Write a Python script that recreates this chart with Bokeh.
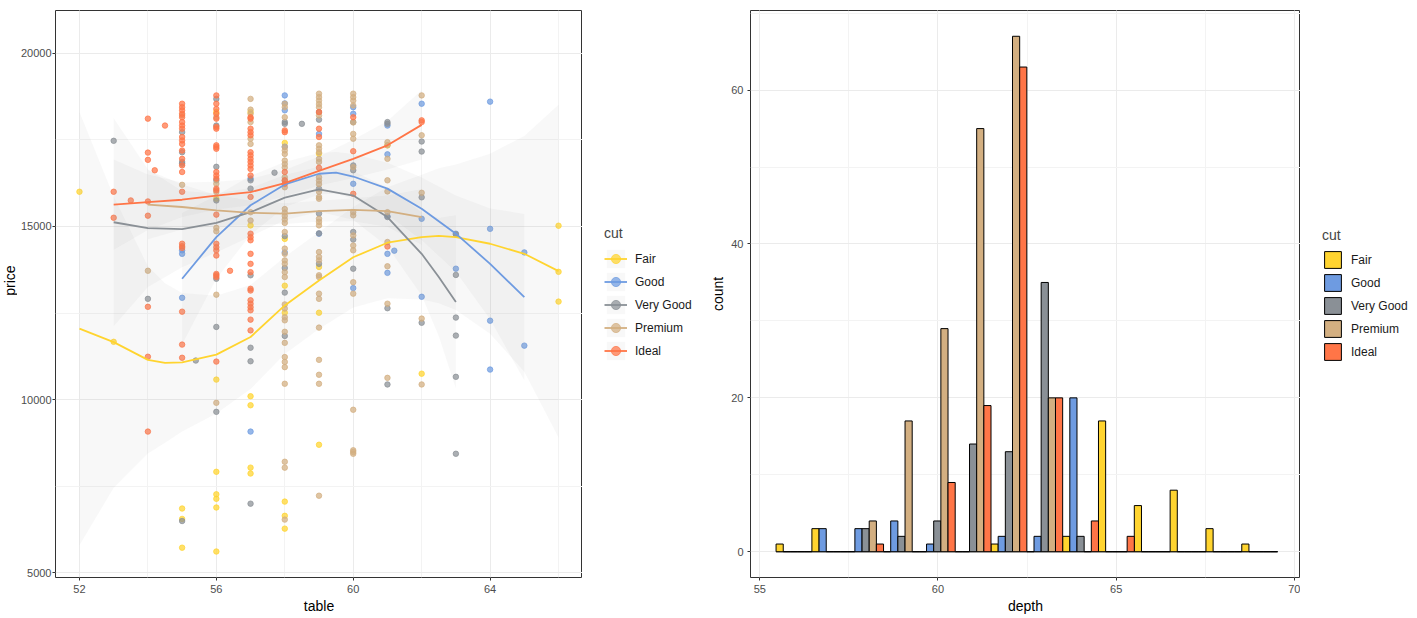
import numpy as np
from bokeh.plotting import figure
from bokeh.layouts import row
from bokeh.models import Range1d, SingleIntervalTicker, Legend, LegendItem
from bokeh.core.properties import value
from bokeh.embed import file_html
from bokeh.resources import INLINE

FONT = "Liberation Sans"

cuts = ["Fair", "Good", "Very Good", "Premium", "Ideal"]
cut_colors = ["#FFD42F", "#6E9BE1", "#8A9096", "#D3AF81", "#FF7547"]

# ---- scatter points (table, price) ----
fair_pts = [(52, 16000), (53, 11670), (55, 6860), (55, 6560), (55, 5730), (56, 18300), (56, 15800),
            (56, 10580), (56, 7920), (56, 7270), (56, 7140), (56, 6890), (56, 5620), (57, 18300),
            (57, 15030), (57, 10100), (57, 9840), (57, 8040), (57, 7870), (58, 17410), (58, 14640),
            (58, 13290), (58, 12510), (58, 7060), (58, 6650), (58, 6280), (59, 17100), (59, 13830),
            (59, 12510), (59, 8700), (61, 17340), (62, 10750), (66, 15020), (66, 13690), (66, 12830)]
good_pts = [(55, 14310), (55, 14210), (55, 12940), (57, 16380), (57, 9080), (58, 18780), (58, 18550),
            (58, 18350), (58, 17300), (58, 14250), (59, 17670), (59, 14790), (60, 18440), (60, 18250),
            (60, 16230), (60, 13220), (61, 17910), (61, 17080), (61, 15290), (61, 14210), (61, 13660),
            (61.2, 14300), (62, 18540), (62, 15220), (62, 12970), (63, 14790), (63, 13780), (64, 18600),
            (64, 14930), (64, 12280), (64, 10870), (65, 14250), (65, 11560)]
vgood_pts = [(53, 17470), (54, 12910), (55, 17720), (55, 17140), (55, 16860), (55, 16810), (55, 6500),
             (55.4, 11130), (56, 18680), (56, 17910), (56, 16720), (56, 16330), (56, 15750), (56, 13490),
             (56, 12100), (56, 9650), (57, 16330), (57, 16090), (57, 13590), (57, 11500), (57, 11110),
             (57, 7000), (57.7, 16550), (58, 18010), (58, 17960), (58, 14720), (58, 13800), (58, 13090),
             (58, 11840), (58.5, 17960), (59, 18300), (59, 18080), (59, 16090), (59, 15370), (59, 14800),
             (59, 13920), (60, 18010), (60, 16760), (60, 16620), (60, 14840), (60, 14620), (60, 13780),
             (61, 18010), (61, 17960), (61, 15270), (61, 12640), (61, 10440), (62, 17450), (62, 17160),
             (62, 15840), (62, 12220), (63, 14770), (63, 13600), (63, 12370), (63, 11850), (63, 10660),
             (63, 8440)]
premium_pts = [(54, 13720), (55, 18210), (55, 16200),
               (56, 18150), (56, 16230), (56, 15990), (56, 14960), (56, 14860), (56, 13030), (56, 9910),
               (57, 18680), (57, 18370), (57, 18250), (57, 18010), (57, 17530), (57, 17380), (57, 15410), (57, 15170),
               (58, 18540), (58, 18440), (58, 18150), (58, 17290), (58, 17190), (58, 17090), (58, 16900),
               (58, 16800), (58, 16700), (58, 16420), (58, 16320), (58, 16130), (58, 15500), (58, 15400),
               (58, 15300), (58, 15200), (58, 15100), (58, 14840), (58, 14360), (58, 14210), (58, 14020),
               (58, 13920), (58, 13680), (58, 13540), (58, 12750), (58, 12630), (58, 12380), (58, 12290),
               (58, 11960), (58, 11640), (58, 11230), (58, 11090), (58, 10940), (58, 10460), (58, 8210),
               (58, 8040), (58, 6540),
               (59, 18830), (59, 18730), (59, 18630), (59, 18530), (59, 18440), (59, 18200), (59, 17340),
               (59, 17240), (59, 17140), (59, 16950), (59, 16860), (59, 16420), (59, 16320), (59, 16220),
               (59, 16000), (59, 15850), (59, 15800), (59, 15220), (59, 15130), (59, 15030), (59, 14260),
               (59, 14120), (59, 14020), (59, 13590), (59, 13540), (59, 13060), (59, 12910), (59, 12080),
               (59, 11150), (59, 10720), (59, 10460), (59, 7230),
               (60, 18830), (60, 18730), (60, 18630), (60, 18490), (60, 18000), (60, 17670), (60, 17530),
               (60, 16710), (60, 15410), (60, 15320), (60, 14740), (60, 14450), (60, 14310), (60, 13390),
               (60, 13060), (60, 9710), (60, 8540), (60, 8490), (60, 8440),
               (61, 17430), (61, 17340), (61, 16950), (61, 16330), (61, 16010), (61, 15410), (61, 14550),
               (61, 13850), (61, 12770), (61, 10630),
               (62, 18780), (62, 17630), (62, 15970), (62, 12340), (62, 10440)]
ideal_pts = [(53, 16000), (53, 15250), (53.5, 15750), (54, 18110), (54, 17130), (54, 16920), (54, 15720),
             (54, 15310), (54, 12680), (54, 11240), (54, 9080), (54.2, 16620), (54.5, 17910),
             (55, 18540), (55, 18440), (55, 18350), (55, 18250), (55, 18150), (55, 18010), (55, 17910),
             (55, 17820), (55, 17580), (55, 17480), (55, 17380), (55, 17190), (55, 16950), (55, 16760),
             (55, 16570), (55, 16000), (55, 14500), (55, 14430), (55, 14380), (55, 12540), (55, 11590), (55, 11210),
             (56, 18780), (56, 18540), (56, 18390), (56, 18250), (56, 18110), (56, 17870), (56, 17820),
             (56, 17340), (56, 17290), (56, 17240), (56, 16570), (56, 16470), (56, 16380), (56, 16090),
             (56, 16040), (56, 15340), (56, 14500), (56, 14400), (56, 14310), (56, 14160), (56, 13630),
             (56, 13590), (56, 13540), (56, 11100), (56.4, 13720),
             (57, 18150), (57, 18110), (57, 17820), (57, 17720), (57, 17630), (57, 17140), (57, 17050),
             (57, 16950), (57, 16860), (57, 16760), (57, 16660), (57, 16470), (57, 15850), (57, 14790),
             (57, 14690), (57, 14600), (57, 14210), (57, 13920), (57, 13680), (57, 13200), (57, 13150),
             (57, 12870), (57, 12770), (57, 12670), (57, 12580), (57, 12310), (57, 12000),
             (58, 17770), (58, 17720), (58, 16570), (58, 16330), (58, 16230),
             (59, 18300), (59, 17820), (59, 17580), (59, 16690),
             (60, 18150), (60, 17170), (60, 15940), (61, 14420), (62, 18060), (62, 18010)]

# ---- loess fits (table grid, fitted price, standard-error half width) ----
fair_grid = [52, 53, 54, 54.5, 55, 56, 57, 58, 59, 60, 61, 62, 62.5, 63, 64, 65, 66]
fair_fit = [12050, 11660, 11150, 11060, 11080, 11300, 11810, 12720, 13440, 14110, 14530, 14690, 14730, 14690, 14500, 14210, 13710]
fair_se = [6250, 4200, 2700, 2300, 2000, 1700, 1500, 1400, 1400, 1450, 1600, 1800, 1950, 2100, 2600, 3400, 4800]

good_grid = [55, 56, 57, 58, 59, 59.5, 60, 61, 62, 63, 64, 65]
good_fit = [13490, 14690, 15610, 16210, 16520, 16550, 16440, 16090, 15510, 14790, 13920, 12960]
good_se = [1900, 1200, 850, 650, 600, 600, 650, 750, 900, 1100, 1600, 2400]

vgood_grid = [53, 54, 55, 56, 57, 58, 59, 60, 61, 62, 62.5, 63]
vgood_fit = [15120, 14950, 14920, 15100, 15410, 15830, 16070, 15890, 15270, 14210, 13540, 12820]
vgood_se = [3000, 1700, 1100, 850, 700, 650, 650, 700, 850, 1200, 1700, 2500]

premium_grid = [54, 55, 56, 57, 58, 59, 60, 61, 62]
premium_fit = [15630, 15560, 15460, 15390, 15370, 15440, 15480, 15440, 15270]
premium_se = [1000, 650, 450, 350, 300, 300, 330, 450, 800]

ideal_grid = [53, 54, 55, 56, 57, 58, 59, 60, 61, 62]
ideal_fit = [15630, 15700, 15770, 15890, 15990, 16250, 16600, 16950, 17340, 17930]
ideal_se = [1300, 800, 500, 400, 380, 380, 420, 550, 700, 1000]

# ---- histogram of depth (14 bins), counts per cut ----
depth_first_center = 55.96
depth_binwidth = 1.005
fair_counts = [1, 3, 0, 0, 0, 0, 1, 0, 2, 17, 6, 8, 3, 1]
good_counts = [0, 3, 3, 4, 1, 0, 2, 2, 20, 0, 0, 0, 0, 0]
vgood_counts = [0, 0, 3, 2, 4, 14, 13, 35, 2, 0, 0, 0, 0, 0]
premium_counts = [0, 0, 4, 17, 29, 55, 67, 20, 0, 0, 0, 0, 0, 0]
ideal_counts = [0, 0, 1, 0, 9, 19, 63, 20, 4, 2, 0, 0, 0, 0]

points = [fair_pts, good_pts, vgood_pts, premium_pts, ideal_pts]
fits = [(fair_grid, fair_fit, fair_se), (good_grid, good_fit, good_se), (vgood_grid, vgood_fit, vgood_se),
        (premium_grid, premium_fit, premium_se), (ideal_grid, ideal_fit, ideal_se)]
counts = [fair_counts, good_counts, vgood_counts, premium_counts, ideal_counts]

FH = 567
TOP = 10
BOTTOM = 38
H = TOP + FH + BOTTOM
BAND_FILL = "#999999"
BAND_ALPHA = 0.07
PT_ALPHA = 0.72


def style(p):
    p.outline_line_color = "#333333"
    p.outline_line_width = 1
    p.background_fill_color = "white"
    p.border_fill_color = "white"
    for ax in (p.xaxis, p.yaxis):
        ax.axis_line_color = None
        ax.major_tick_line_color = "#333333"
        ax.major_tick_out = 3
        ax.major_tick_in = 0
        ax.minor_tick_line_color = None
        ax.major_label_text_font = FONT
        ax.major_label_text_font_size = "11px"
        ax.major_label_text_color = "#4D4D4D"
        ax.major_label_standoff = 3
        ax.axis_label_text_font = FONT
        ax.axis_label_text_font_size = "14px"
        ax.axis_label_text_font_style = "normal"
        ax.axis_label_text_color = "black"
        ax.axis_label_standoff = 2
    for g in (p.xgrid, p.ygrid):
        g.grid_line_color = "#EBEBEB"
        g.grid_line_width = 1
        g.minor_grid_line_color = "#F3F3F3"
        g.minor_grid_line_width = 1


def blank_fig(w):
    f = figure(width=w, height=H, x_range=Range1d(0, 1), y_range=Range1d(0, 1),
               output_backend="svg", toolbar_location=None, x_axis_location=None, y_axis_location=None,
               min_border_left=0, min_border_right=0, min_border_top=0, min_border_bottom=0)
    f.outline_line_color = None
    f.grid.visible = False
    f.background_fill_color = "white"
    f.border_fill_color = "white"
    return f


def make_legend(items, gw, gh, sp, standoff):
    return Legend(items=items, location=(22, 214), title="cut", orientation="vertical",
                  glyph_width=gw, glyph_height=gh, label_height=gh, spacing=sp, label_standoff=standoff,
                  padding=10, margin=0, border_line_color=None, background_fill_alpha=0,
                  title_text_font=FONT, title_text_font_size="14px", title_text_font_style="normal",
                  title_standoff=6, label_text_font=FONT, label_text_font_size="12px",
                  label_text_color="#1A1A1A")


# ---- y-axis title of the left panel ----
ylab = blank_fig(17)
ylab.text(x=[0.55], y=[0.5 + (BOTTOM - TOP) / (2 * H)], text=["price"], angle=np.pi / 2,
          text_align="center", text_baseline="middle", text_font=value(FONT),
          text_font_size="14px", text_color="black")

# ================= left: price vs table =================
p1 = figure(frame_width=527, frame_height=FH, x_range=Range1d(51.3, 66.7), y_range=Range1d(4870, 21230),
            output_backend="svg", toolbar_location=None,
            min_border_left=36, min_border_right=0, min_border_top=TOP, min_border_bottom=BOTTOM)
p1.xaxis.ticker = SingleIntervalTicker(interval=4, num_minor_ticks=2)
p1.yaxis.ticker = SingleIntervalTicker(interval=5000, num_minor_ticks=2)
p1.xaxis.axis_label = "table"
style(p1)
p1.yaxis.major_label_standoff = 0

for pts, col in zip(points, cut_colors):
    xs = [a for a, b in pts]
    ys = [b for a, b in pts]
    p1.scatter(xs, ys, size=5.5, fill_color=col, line_color=col, fill_alpha=PT_ALPHA, line_alpha=PT_ALPHA)

for k in range(len(cuts)):
    g, f, s = fits[k]
    lo = [a - b for a, b in zip(f, s)]
    hi = [a + b for a, b in zip(f, s)]
    p1.varea(x=g, y1=lo, y2=hi, fill_color=BAND_FILL, fill_alpha=BAND_ALPHA)
for k, col in enumerate(cut_colors):
    g, f, s = fits[k]
    p1.line(g, f, line_color=col, line_width=1.8)

# legend of the left panel: key glyphs kept outside the visible range of a blank figure
OFF = [5.0, 6.0]
lg1 = blank_fig(125)
items1 = []
for cut, col in zip(cuts, cut_colors):
    b = lg1.varea(x=OFF, y1=OFF, y2=OFF, fill_color=BAND_FILL, fill_alpha=BAND_ALPHA)
    l = lg1.line(x=OFF, y=OFF, line_color=col, line_width=1.8)
    s = lg1.scatter(x=OFF, y=OFF, size=5.5, fill_color=col, line_color=col, fill_alpha=PT_ALPHA, line_alpha=PT_ALPHA)
    items1.append(LegendItem(label=cut, renderers=[b, l, s]))
lg1.add_layout(make_legend(items1, 23, 23, 0, 8), "center")

# ================= right: histogram of depth =================
p2 = figure(frame_width=550, frame_height=FH, x_range=Range1d(54.74, 70.17), y_range=Range1d(-3.35, 70.35),
            output_backend="svg", toolbar_location=None,
            min_border_left=42, min_border_right=0, min_border_top=TOP, min_border_bottom=BOTTOM)
p2.xaxis.ticker = SingleIntervalTicker(interval=5, num_minor_ticks=2)
p2.yaxis.ticker = SingleIntervalTicker(interval=20, num_minor_ticks=2)
p2.xaxis.axis_label = "depth"
p2.yaxis.axis_label = "count"
style(p2)

nb = len(fair_counts)
centers = [depth_first_center + i * depth_binwidth for i in range(nb)]
p2.line([centers[0] - depth_binwidth / 2, centers[-1] + depth_binwidth / 2], [0, 0],
        line_color="black", line_width=1)
for k, (cut, col) in enumerate(zip(cuts, cut_colors)):
    xs = [c - depth_binwidth / 2 + (k + 0.5) * depth_binwidth / 5 for c in centers]
    p2.vbar(x=xs, top=counts[k], bottom=0, width=depth_binwidth / 5,
            fill_color=col, line_color="black", line_width=1)

lg2 = blank_fig(111)
items2 = []
for cut, col in zip(cuts, cut_colors):
    r = lg2.vbar(x=OFF, top=OFF, width=0.1, fill_color=col, line_color="black", line_width=1)
    items2.append(LegendItem(label=cut, renderers=[r]))
lg2.add_layout(make_legend(items2, 21, 21, 2, 8), "center")

layout = row(ylab, p1, lg1, p2, lg2, spacing=0)
open("out.html", "w").write(file_html(layout, INLINE))
